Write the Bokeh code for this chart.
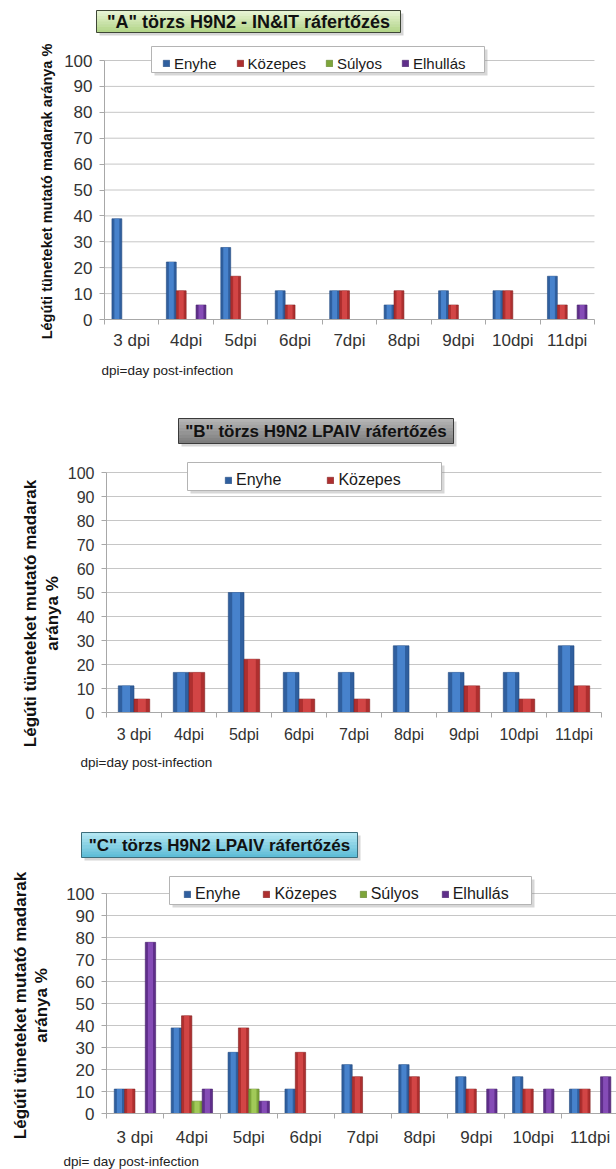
from bokeh.plotting import figure
from bokeh.models import (Range1d, FixedTicker, Label, Legend, LegendItem,
                          ColumnDataSource, BoxAnnotation)
from bokeh.layouts import column
from bokeh.embed import file_html
from bokeh.resources import INLINE
import math

# ---- data -------------------------------------------------------------
days = ["3 dpi", "4dpi", "5dpi", "6dpi", "7dpi", "8dpi", "9dpi", "10dpi", "11dpi"]

a_enyhe    = [38.9, 22.2, 27.8, 11.1, 11.1, 5.6, 11.1, 11.1, 16.7]
a_kozepes  = [0.0, 11.1, 16.7, 5.6, 11.1, 11.1, 5.6, 11.1, 5.6]
a_sulyos   = [0, 0, 0, 0, 0, 0, 0, 0, 0]
a_elhullas = [0.0, 5.6, 0, 0, 0, 0, 0, 0, 5.6]

b_enyhe    = [11.1, 16.7, 50.0, 16.7, 16.7, 27.8, 16.7, 16.7, 27.8]
b_kozepes  = [5.6, 16.7, 22.2, 5.6, 5.6, 0.0, 11.1, 5.6, 11.1]

c_enyhe    = [11.1, 38.9, 27.8, 11.1, 22.2, 22.2, 16.7, 16.7, 11.1]
c_kozepes  = [11.1, 44.4, 38.9, 27.8, 16.7, 16.7, 11.1, 11.1, 11.1]
c_sulyos   = [0.0, 5.6, 11.1, 0, 0, 0, 0, 0, 0]
c_elhullas = [77.8, 11.1, 5.6, 0, 0, 0, 11.1, 11.1, 16.7]

y_ticks = [0, 10, 20, 30, 40, 50, 60, 70, 80, 90, 100]

# base colour, lighter centre stripe, outline
palette = {
    "Enyhe":    ("#2F5F9F", "#4A86D0", "#234A80"),
    "Közepes":  ("#AE2F2F", "#D64848", "#822020"),
    "Súlyos":   ("#7DA53A", "#A5CD5C", "#5C7D28"),
    "Elhullás": ("#5F2E8A", "#8A50BA", "#45206A"),
}

FONT = "Liberation Sans"
TXT = "#333333"
W = 616


class Panel:
    """One chart; the frame fills the whole figure and the axes sit at 0."""

    def __init__(self, height, page_top, left, cat_w, zero_py, unit_px,
                 tick_size, xlab_standoff):
        self.h, self.top, self.left, self.cw = height, page_top, left, cat_w
        self.zero, self.u = zero_py, unit_px
        local_zero = zero_py - page_top
        p = figure(width=W, height=height, output_backend="svg", toolbar_location=None,
                   x_range=Range1d(-left / cat_w, (W - left) / cat_w),
                   y_range=Range1d(-(height - local_zero) / unit_px, local_zero / unit_px),
                   min_border=0, outline_line_color=None,
                   background_fill_color="white", border_fill_color="white")
        p.grid.visible = False

        # horizontal gridlines across the nine days
        p.segment(x0=[0] * 10, x1=[len(days)] * 10, y0=y_ticks[1:], y1=y_ticks[1:],
                  line_color="#C6C6C6", line_width=1)

        ya = p.yaxis[0]
        ya.fixed_location = 0
        ya.bounds = (0, 100)
        ya.ticker = FixedTicker(ticks=y_ticks)
        ya.axis_line_color = "#A8A8A8"
        ya.major_tick_line_color = "#A8A8A8"
        ya.major_tick_out = 5
        ya.major_tick_in = 0
        ya.minor_tick_line_color = None
        ya.major_label_text_font = FONT
        ya.major_label_text_font_size = tick_size
        ya.major_label_text_color = TXT
        ya.major_label_standoff = 7

        xa = p.xaxis[0]
        xa.fixed_location = 0
        xa.bounds = (0, len(days))
        centers = [i + 0.5 for i in range(len(days))]
        xa.ticker = FixedTicker(ticks=centers, minor_ticks=list(range(len(days) + 1)))
        xa.major_label_overrides = {c: d for c, d in zip(centers, days)}
        xa.axis_line_color = "#A8A8A8"
        xa.major_tick_line_color = None
        xa.minor_tick_line_color = "#A8A8A8"
        xa.minor_tick_out = 5
        xa.minor_tick_in = 0
        xa.major_label_text_font = FONT
        xa.major_label_text_font_size = tick_size
        xa.major_label_text_color = TXT
        xa.major_label_standoff = xlab_standoff
        self.p = p

    # page pixel -> data
    def X(self, px):
        return (px - self.left) / self.cw

    def Y(self, py):
        return (self.zero - py) / self.u

    def bars(self, series):
        n = len(series)
        width = 1.0 / (n + 1.5)
        renderers = []
        for k, (name, vals) in enumerate(series):
            base, light, edge = palette[name]
            off = (k - (n - 1) / 2.0) * width
            xs = [i + 0.5 + off for i in range(len(days))]
            src = ColumnDataSource(dict(x=xs, top=vals))
            r = self.p.vbar(x="x", top="top", width=width, bottom=0, source=src,
                            fill_color=base, line_color=edge, line_width=0.6)
            self.p.vbar(x="x", top="top", width=width * 0.5, bottom=0, source=src,
                        fill_color=light, line_color=None, fill_alpha=0.9)
            renderers.append((name, r))
        return renderers

    def box(self, x0, y0, x1, y1, fill, line=None, alpha=1.0):
        self.p.add_layout(BoxAnnotation(left=self.X(x0), right=self.X(x1),
                                        top=self.Y(y0), bottom=self.Y(y1),
                                        fill_color=fill, fill_alpha=alpha,
                                        line_color=line, line_alpha=1.0 if line else 0,
                                        line_width=1))

    def gradient_box(self, x0, y0, x1, y1, c_top, c_bot, line):
        # soft drop shadow, then a vertical gradient built from thin strips
        self.box(x0 + 3, y0 + 3, x1 + 3, y1 + 3, "#888888", alpha=0.35)
        steps = 8
        h = (y1 - y0) / steps
        t = [int(c_top[i:i + 2], 16) for i in (1, 3, 5)]
        b = [int(c_bot[i:i + 2], 16) for i in (1, 3, 5)]
        for s in range(steps):
            f = s / (steps - 1)
            col = "#%02x%02x%02x" % tuple(round(t[j] + (b[j] - t[j]) * f) for j in range(3))
            self.box(x0, y0 + s * h, x1, y0 + (s + 1) * h + 0.5, col)
        self.box(x0, y0, x1, y1, None, line=line, alpha=0)

    def text(self, px, py, text, size, bold=False, angle=0.0, color="#111111", align="center"):
        self.p.add_layout(Label(x=self.X(px), y=self.Y(py), text=text, text_font=FONT,
                                text_font_size=size,
                                text_font_style="bold" if bold else "normal",
                                text_color=color, angle=angle, text_align=align,
                                text_baseline="middle"))

    def legend(self, renderers, box, first_glyph_x, center_py, spacing, size):
        x0, y0, x1, y1 = box
        self.box(x0 + 3, y0 + 3, x1 + 3, y1 + 3, "#8C8C8C", alpha=0.35)
        self.box(x0, y0, x1, y1, "white", line="#B4B4B4")
        pad = 4
        item_h = 18
        bottom_local = (center_py + item_h / 2 + pad) - self.top
        leg = Legend(items=[LegendItem(label=n, renderers=[r]) for n, r in renderers],
                     orientation="horizontal",
                     location=(first_glyph_x - pad, self.h - bottom_local),
                     glyph_width=8, glyph_height=8, label_standoff=4,
                     spacing=spacing, padding=pad, margin=0, label_height=item_h,
                     label_text_font=FONT, label_text_font_size=size,
                     label_text_color="#1A1A1A", label_text_baseline="middle",
                     border_line_color=None, background_fill_alpha=0)
        self.p.add_layout(leg, "center")


four = lambda e, k, s, d: [("Enyhe", e), ("Közepes", k), ("Súlyos", s), ("Elhullás", d)]

# ---- panel A ----------------------------------------------------------
A = Panel(395, 0, 104, 54.44, 319, 2.59, "17px", 5)
ra = A.bars(four(a_enyhe, a_kozepes, a_sulyos, a_elhullas))
A.gradient_box(96, 10, 400, 32, "#E6F3D2", "#B4D68A", "#3E4636")
A.text(248, 21.5, "\"A\" törzs H9N2 - IN&IT ráfertőzés", "18px", bold=True)
A.legend(ra, (151, 46, 484, 72), 166, 59, 19, "15px")
A.text(46, 191, "Légúti tüneteket mutató madarak aránya %", "14.5px", bold=True,
       angle=math.pi / 2)
A.text(101, 370, "dpi=day post-infection", "13.5px", align="left", color="#222222")

# ---- panel B ----------------------------------------------------------
B = Panel(385, 395, 106, 55.0, 712, 2.40, "16px", 7)
rb = B.bars([("Enyhe", b_enyhe), ("Közepes", b_kozepes)])
B.gradient_box(178, 418, 453, 443, "#B4B4B4", "#7C7C7C", "#3A3A3A")
B.text(315.5, 430.5, "\"B\" törzs H9N2 LPAIV ráfertőzés", "17px", bold=True)
B.legend(rb, (187, 462, 441, 490), 228, 476, 45, "16px")
B.text(30, 613, "Légúti tüneteket mutató madarak", "17px", bold=True, angle=math.pi / 2)
B.text(52, 613, "aránya %", "17px", bold=True, angle=math.pi / 2)
B.text(80, 762, "dpi=day post-infection", "13.5px", align="left", color="#222222")

# ---- panel C ----------------------------------------------------------
C = Panel(389, 780, 106, 56.9, 1113, 2.20, "17px", 8)
rc = C.bars(four(c_enyhe, c_kozepes, c_sulyos, c_elhullas))
C.gradient_box(81, 832, 357, 857, "#B2E6F2", "#5FBDD7", "#3D6E7C")
C.text(219, 844.5, "\"C\" törzs H9N2 LPAIV ráfertőzés", "17px", bold=True)
C.legend(rc, (169, 876, 531, 904), 187, 890, 22, "16px")
C.text(20, 1005, "Légúti tüneteket mutató madarak", "17px", bold=True, angle=math.pi / 2)
C.text(41, 1005, "aránya %", "17px", bold=True, angle=math.pi / 2)
C.text(63, 1161, "dpi= day post-infection", "13.5px", align="left", color="#222222")

page = column(A.p, B.p, C.p, spacing=0)
open("out.html", "w").write(file_html(page, INLINE))
